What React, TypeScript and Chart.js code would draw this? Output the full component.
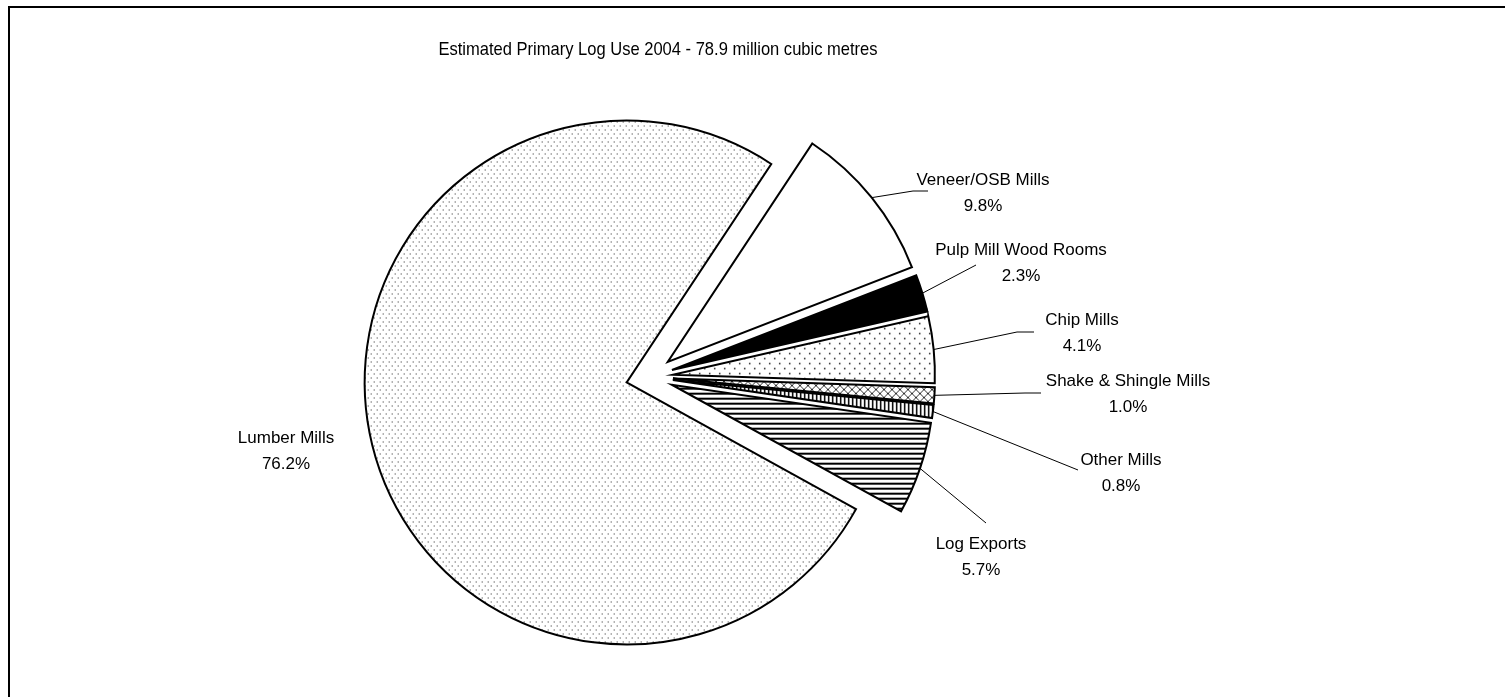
import React, { useEffect, useRef } from 'react';
import { Chart, registerables } from 'chart.js';

Chart.register(...registerables);

// ---------- data ----------
const categories = [
  'Veneer/OSB Mills',
  'Pulp Mill Wood Rooms',
  'Chip Mills',
  'Shake & Shingle Mills',
  'Other Mills',
  'Log Exports',
  'Lumber Mills',
];
const shares = [9.8, 2.3, 4.1, 1.0, 0.8, 5.7, 76.2];
const titleText = 'Estimated Primary Log Use 2004 - 78.9 million cubic metres';

// ---------- layout / style ----------
const W = 1505;
const H = 697;
const explode = [24, 24, 24, 24, 24, 24, 23];
// label block: centre x, first-line centre y
const labelPos: [number, number][] = [
  [983, 180],
  [1021, 250],
  [1082, 320],
  [1128, 381],
  [1121, 460],
  [981, 544],
  [286, 438],
];
// leader polyline points after the arc start point
const leaderPts: [number, number][][] = [
  [[913, 191], [928, 191]],
  [[976, 265]],
  [[1017, 332], [1034, 332]],
  [[1025, 393], [1041, 393]],
  [[1078, 470]],
  [[986, 523]],
  [],
];
const FONT = '"Liberation Sans", Arial, sans-serif';

type Painter = (g: CanvasRenderingContext2D, w: number, h: number) => void;

function makePattern(ctx: CanvasRenderingContext2D, w: number, h: number, paint: Painter, bg = '#fff') {
  const c = document.createElement('canvas');
  c.width = w;
  c.height = h;
  const g = c.getContext('2d')!;
  g.fillStyle = bg;
  g.fillRect(0, 0, w, h);
  paint(g, w, h);
  return ctx.createPattern(c, 'repeat')!;
}

function buildFills(ctx: CanvasRenderingContext2D) {
  const veneer = '#ffffff';
  const pulp = '#000000';
  const chip = makePattern(ctx, 10, 10, (g) => {
    g.fillStyle = '#222';
    g.fillRect(0, 0, 1.5, 1.5);
    g.fillRect(5, 5, 1.5, 1.5);
  });
  const shake = makePattern(ctx, 8, 8, (g) => {
    g.strokeStyle = '#333';
    g.lineWidth = 1;
    g.beginPath();
    g.moveTo(0, 0);
    g.lineTo(8, 8);
    g.moveTo(8, 0);
    g.lineTo(0, 8);
    g.stroke();
  });
  const other = makePattern(ctx, 4, 4, (g) => {
    g.fillStyle = '#000';
    g.fillRect(0, 0, 1.5, 4);
  });
  const log = makePattern(ctx, 5, 5, (g) => {
    g.fillStyle = '#000';
    g.fillRect(0, 0, 5, 2);
  });
  const lumber = makePattern(ctx, 6, 8, (g) => {
    g.fillStyle = '#222';
    g.fillRect(0, 0, 1, 1);
    g.fillRect(3, 4, 1, 1);
  });
  return [veneer, pulp, chip, shake, other, log, lumber];
}

const explodePlugin = {
  id: 'explodePlugin',
  beforeDatasetDraw(chart: any, args: any) {
    const ctx: CanvasRenderingContext2D = chart.ctx;
    args.meta.data.forEach((arc: any, i: number) => {
      const mid = (arc.startAngle + arc.endAngle) / 2;
      const d = explode[i] || 0;
      ctx.save();
      ctx.translate(Math.cos(mid) * d, Math.sin(mid) * d);
      arc.draw(ctx);
      ctx.restore();
    });
    return false;
  },
  afterDraw(chart: any) {
    const ctx: CanvasRenderingContext2D = chart.ctx;
    ctx.save();
    // frame
    ctx.strokeStyle = '#000';
    ctx.lineWidth = 2;
    ctx.beginPath();
    ctx.moveTo(9, H + 5);
    ctx.lineTo(9, 7);
    ctx.lineTo(W + 5, 7);
    ctx.stroke();

    // title (slightly condensed, as in the original)
    ctx.fillStyle = '#000';
    ctx.textAlign = 'center';
    ctx.textBaseline = 'middle';
    ctx.save();
    ctx.translate(658, 50);
    ctx.scale(0.87, 1);
    ctx.font = `19px ${FONT}`;
    ctx.fillText(titleText, 0, 0);
    ctx.restore();

    // leaders and labels
    const meta = chart.getDatasetMeta(0);
    ctx.font = `17px ${FONT}`;
    meta.data.forEach((arc: any, i: number) => {
      const mid = (arc.startAngle + arc.endAngle) / 2;
      const r = arc.outerRadius + (explode[i] || 0);
      const sx = arc.x + Math.cos(mid) * r;
      const sy = arc.y + Math.sin(mid) * r;
      const pts = leaderPts[i];
      if (pts.length) {
        ctx.lineWidth = 1;
        ctx.beginPath();
        ctx.moveTo(sx, sy);
        pts.forEach(([x, y]) => ctx.lineTo(x, y));
        ctx.stroke();
      }
      const [lx, ly] = labelPos[i];
      ctx.fillText(categories[i], lx, ly);
      ctx.fillText(shares[i].toFixed(1) + '%', lx, ly + 26);
    });
    ctx.restore();
  },
};

export default function App() {
  const ref = useRef<HTMLCanvasElement | null>(null);
  useEffect(() => {
    const canvas = ref.current!;
    const ctx = canvas.getContext('2d')!;
    const fills = buildFills(ctx);
    const chart = new Chart(canvas, {
      type: 'pie',
      data: {
        labels: categories,
        datasets: [
          {
            data: shares,
            backgroundColor: fills as any,
            borderColor: '#000',
            borderWidth: 2,
            borderJoinStyle: 'miter',
            offset: 0,
            hoverOffset: 0,
          } as any,
        ],
      },
      options: {
        animation: false,
        responsive: false,
        events: [],
        rotation: 33.5,
        radius: 262,
        layout: { padding: { left: 0, right: 207, top: 57, bottom: 0 } },
        plugins: {
          legend: { display: false },
          title: { display: false },
          tooltip: { enabled: false },
        },
      } as any,
      plugins: [explodePlugin as any],
    });
    return () => chart.destroy();
  }, []);
  return (
    <div style={{ position: 'fixed', left: 0, top: 0, width: W, height: H, background: '#fff', overflow: 'hidden' }}>
      <canvas ref={ref} width={W} height={H} style={{ width: W, height: H, display: 'block' }} />
    </div>
  );
}
